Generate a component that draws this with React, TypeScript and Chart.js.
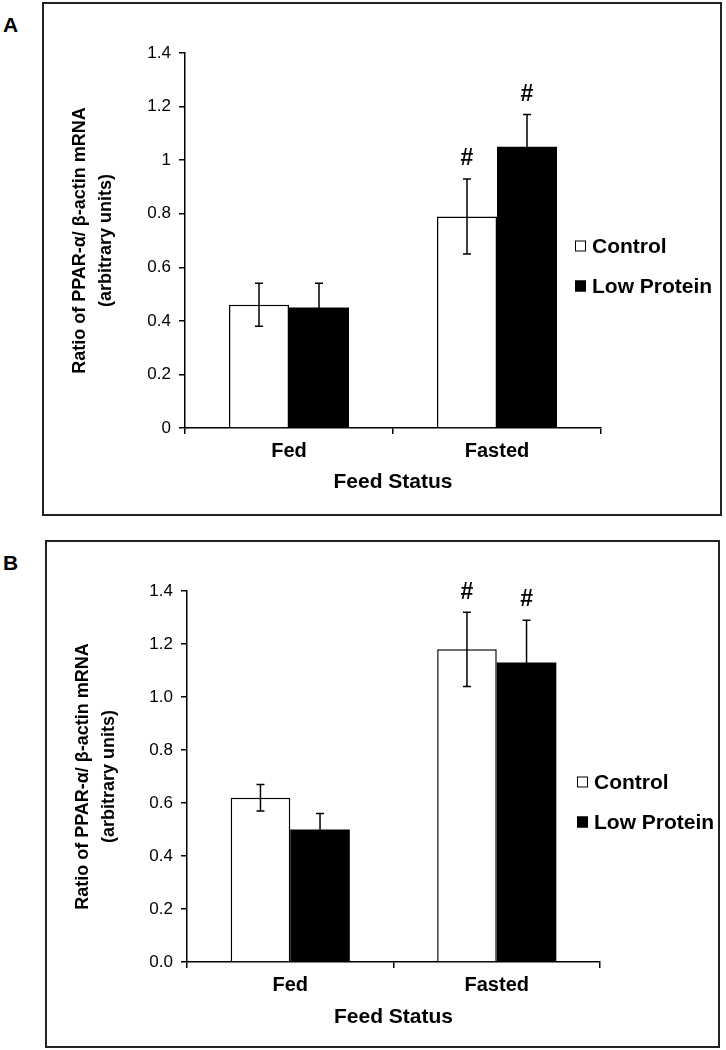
import React, { useEffect, useRef } from "react";
import { Chart, registerables } from "chart.js";

Chart.register(...registerables);

const categories = ["Fed", "Fasted"];
const seriesNames = ["Control", "Low Protein"];
const xTitle = "Feed Status";
const yTitle = ["Ratio of PPAR-α/ β-actin mRNA", "(arbitrary units)"];

const yTickLabelsA = ["0", "0.2", "0.4", "0.6", "0.8", "1", "1.2", "1.4"];
const yTickLabelsB = ["0.0", "0.2", "0.4", "0.6", "0.8", "1.0", "1.2", "1.4"];

// Panel A
const aControl = [0.46, 0.79];
const aControlErr = [0.08, 0.14];
const aControlMarks = ["", "#"];
const aLow = [0.45, 1.05];
const aLowErr = [0.09, 0.12];
const aLowMarks = ["", "#"];

// Panel B
const bControl = [0.62, 1.18];
const bControlErr = [0.05, 0.14];
const bControlMarks = ["", "#"];
const bLow = [0.5, 1.13];
const bLowErr = [0.06, 0.16];
const bLowMarks = ["", "#"];

const FONT = "'Liberation Sans', Arial, sans-serif";

const decor = {
  id: "decor",
  afterDatasetsDraw(chart: any) {
    const ctx = chart.ctx;
    const ys = chart.scales.y;
    chart.data.datasets.forEach((ds: any, i: number) => {
      const meta = chart.getDatasetMeta(i);
      meta.data.forEach((bar: any, j: number) => {
        const v = ds.data[j];
        const e = ds.errors[j];
        const x = bar.x;
        const top = ys.getPixelForValue(v + e);
        const bot = ys.getPixelForValue(v - e);
        ctx.save();
        ctx.strokeStyle = "#000";
        ctx.lineWidth = 1.5;
        ctx.beginPath();
        ctx.moveTo(x, top);
        ctx.lineTo(x, bot);
        ctx.moveTo(x - 4, top);
        ctx.lineTo(x + 4, top);
        ctx.moveTo(x - 4, bot);
        ctx.lineTo(x + 4, bot);
        ctx.stroke();
        if (ds.marks[j]) {
          ctx.fillStyle = "#000";
          ctx.font = `bold 23px ${FONT}`;
          ctx.textAlign = "center";
          ctx.textBaseline = "middle";
          ctx.fillText(ds.marks[j], x, top - 20);
        }
        ctx.restore();
      });
    });
  },
  afterDraw(chart: any, _args: any, opts: any) {
    const ctx = chart.ctx;
    ctx.save();
    chart.data.datasets.forEach((ds: any, i: number) => {
      const cy = opts.legendY[i];
      const sx = opts.legendX;
      ctx.fillStyle = ds.backgroundColor;
      ctx.fillRect(sx, cy - 5.5, 11, 11);
      ctx.strokeStyle = "#000";
      ctx.lineWidth = 1;
      ctx.strokeRect(sx + 0.5, cy - 5, 10, 10);
      ctx.fillStyle = "#000";
      ctx.font = `bold 21px ${FONT}`;
      ctx.textAlign = "left";
      ctx.textBaseline = "middle";
      ctx.fillText(ds.label, sx + 17, cy + 1);
    });
    ctx.strokeStyle = "#222";
    ctx.lineWidth = 2;
    ctx.strokeRect(1, 1, chart.width - 2, chart.height - 2);
    ctx.restore();
  },
};

function makeConfig(
  control: number[],
  controlErr: number[],
  controlMarks: string[],
  low: number[],
  lowErr: number[],
  lowMarks: string[],
  tickLabels: string[],
  geo: { yWidth: number; xHeight: number; padTop: number; padRight: number; yTitlePad: number; xTitlePad: number; legendX: number; legendY: number[] }
): any {
  return {
    type: "bar",
    data: {
      labels: categories,
      datasets: [
        {
          label: seriesNames[0],
          data: control,
          errors: controlErr,
          marks: controlMarks,
          backgroundColor: "#ffffff",
          borderColor: "#000000",
          borderWidth: 1.5,
          borderSkipped: "bottom",
          categoryPercentage: 0.577,
          barPercentage: 1.0,
        },
        {
          label: seriesNames[1],
          data: low,
          errors: lowErr,
          marks: lowMarks,
          backgroundColor: "#000000",
          borderColor: "#000000",
          borderWidth: 0,
          categoryPercentage: 0.577,
          barPercentage: 1.0,
        },
      ],
    },
    options: {
      responsive: false,
      animation: false,
      devicePixelRatio: 1,
      layout: { padding: { top: geo.padTop, right: geo.padRight, left: 0, bottom: 0 } },
      plugins: {
        legend: { display: false },
        tooltip: { enabled: false },
        decor: { legendX: geo.legendX, legendY: geo.legendY },
      },
      scales: {
        x: {
          offset: true,
          grid: {
            display: true,
            drawOnChartArea: false,
            drawTicks: true,
            tickLength: 6,
            color: "#000",
            lineWidth: 1.5,
            offset: true,
          },
          border: { display: true, color: "#000", width: 1.5 },
          ticks: {
            color: "#000",
            padding: 5,
            font: { family: FONT, size: 20, weight: "bold" },
          },
          title: {
            display: true,
            text: xTitle,
            color: "#000",
            font: { family: FONT, size: 21, weight: "bold", lineHeight: 1.2 },
            padding: { top: 0, bottom: geo.xTitlePad },
          },
          afterFit: (s: any) => {
            s.height = geo.xHeight;
          },
        },
        y: {
          min: 0,
          max: 1.4,
          grid: {
            display: true,
            drawOnChartArea: false,
            drawTicks: true,
            tickLength: 6,
            color: "#000",
            lineWidth: 1.5,
          },
          border: { display: true, color: "#000", width: 1.5 },
          ticks: {
            stepSize: 0.2,
            color: "#000",
            padding: 8,
            font: { family: FONT, size: 17 },
            callback: (_v: any, i: number) => tickLabels[i],
          },
          title: {
            display: true,
            text: yTitle,
            color: "#000",
            font: { family: FONT, size: 18, weight: "bold", lineHeight: 1.45 },
            padding: { top: geo.yTitlePad, bottom: 0 },
          },
          afterFit: (s: any) => {
            s.width = geo.yWidth;
          },
        },
      },
    },
    plugins: [decor],
  };
}

function Panel(props: { config: any; width: number; height: number; left: number; top: number }) {
  const ref = useRef<HTMLCanvasElement | null>(null);
  useEffect(() => {
    if (!ref.current) return;
    const chart = new Chart(ref.current, props.config);
    return () => chart.destroy();
  }, []);
  return (
    <canvas
      ref={ref}
      width={props.width}
      height={props.height}
      style={{ position: "absolute", left: props.left, top: props.top, width: props.width, height: props.height, display: "block" }}
    />
  );
}

const letterStyle: React.CSSProperties = {
  position: "absolute",
  left: 3,
  fontFamily: FONT,
  fontWeight: "bold",
  fontSize: 21,
  lineHeight: "21px",
  color: "#000",
};

export default function App() {
  const configA = makeConfig(aControl, aControlErr, aControlMarks, aLow, aLowErr, aLowMarks, yTickLabelsA, {
    yWidth: 143,
    xHeight: 88,
    padTop: 51,
    padRight: 121,
    yTitlePad: 25,
    xTitlePad: 21,
    legendX: 533,
    legendY: [244, 284],
  });
  const configB = makeConfig(bControl, bControlErr, bControlMarks, bLow, bLowErr, bLowMarks, yTickLabelsB, {
    yWidth: 142,
    xHeight: 86,
    padTop: 51,
    padRight: 120,
    yTitlePad: 25,
    xTitlePad: 18,
    legendX: 532,
    legendY: [242, 282],
  });
  return (
    <div style={{ position: "absolute", left: 0, top: 0, width: 726, height: 1050, background: "#fff" }}>
      <div style={{ ...letterStyle, top: 14 }}>A</div>
      <Panel config={configA} width={680} height={514} left={42} top={2} />
      <div style={{ ...letterStyle, top: 552 }}>B</div>
      <Panel config={configB} width={675} height={508} left={45} top={540} />
    </div>
  );
}
